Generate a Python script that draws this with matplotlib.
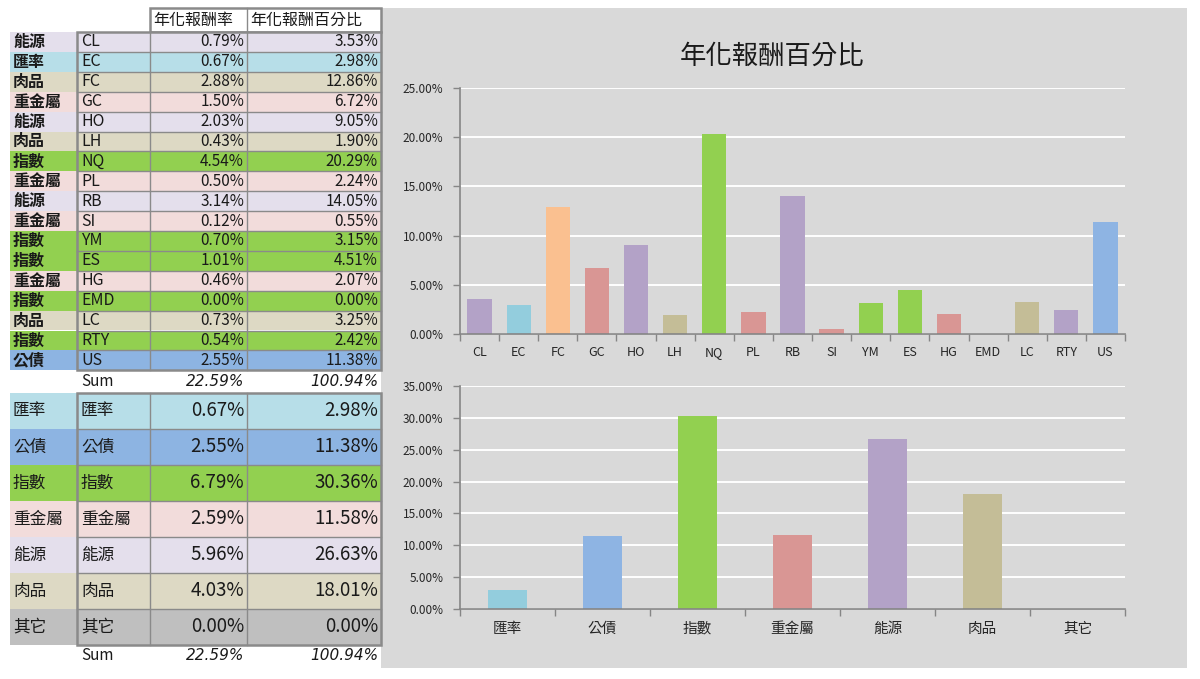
import numpy as np
import matplotlib.pyplot as plt
from matplotlib.patches import Rectangle
from matplotlib.ticker import FuncFormatter, FixedLocator

plt.rcParams['font.family'] = ['Noto Sans CJK TC', 'DejaVu Sans']

# per-contract data
codes = ['CL', 'EC', 'FC', 'GC', 'HO', 'LH', 'NQ', 'PL', 'RB', 'SI', 'YM', 'ES', 'HG', 'EMD', 'LC', 'RTY', 'US']
sectors = ['能源', '匯率', '肉品', '重金屬', '能源', '肉品', '指數', '重金屬', '能源', '重金屬',
           '指數', '指數', '重金屬', '指數', '肉品', '指數', '公債']
ann_ret = [0.79, 0.67, 2.88, 1.50, 2.03, 0.43, 4.54, 0.50, 3.14, 0.12, 0.70, 1.01, 0.46, 0.00, 0.73, 0.54, 2.55]
ret_pct = [3.53, 2.98, 12.86, 6.72, 9.05, 1.90, 20.29, 2.24, 14.05, 0.55, 3.15, 4.51, 2.07, 0.00, 3.25, 2.42, 11.38]
bar_colors = ['#b3a2c7', '#93cddd', '#fac090', '#d99694', '#b3a2c7', '#c4bd97', '#92d050', '#d99694', '#b3a2c7',
              '#d99694', '#92d050', '#92d050', '#d99694', '#92d050', '#c4bd97', '#b3a2c7', '#8eb4e3']

# per-sector data
groups = ['匯率', '公債', '指數', '重金屬', '能源', '肉品', '其它']
group_ret = [0.67, 2.55, 6.79, 2.59, 5.96, 4.03, 0.00]
group_pct = [2.98, 11.38, 30.36, 11.58, 26.63, 18.01, 0.00]
group_colors = ['#93cddd', '#8eb4e3', '#92d050', '#d99694', '#b3a2c7', '#c4bd97', '#bfbfbf']

sum_ret = 22.59
sum_pct = 100.94
headers = ['年化報酬率', '年化報酬百分比']
title = '年化報酬百分比'

row_fill = {'能源': '#e4dfec', '匯率': '#b7dee8', '肉品': '#ddd9c4', '重金屬': '#f2dcdb',
            '指數': '#92d050', '公債': '#8db4e2', '其它': '#bfbfbf'}

fig = plt.figure(figsize=(12, 6.79), dpi=100)
bg = fig.add_axes([0, 0, 1, 1], zorder=0)
bg.set_xlim(0, 1200)
bg.set_ylim(679, 0)
bg.axis('off')

# gray chart panel
bg.add_patch(Rectangle((381, 8), 806, 660, facecolor='#d9d9d9', edgecolor='none'))

x_cat, x_code, x_ret, x_pct, x_end = 10, 77, 150, 247, 381
line_c = '#8a8a8a'
txt_c = '#1a1a1a'


def draw_table(y0, rh, cats, labels, rets, pcts, fs_txt, fs_num, cat_weight):
    n = len(cats)
    for i in range(n):
        y = y0 + i * rh
        yc = y + rh / 2
        bg.add_patch(Rectangle((x_cat, y), x_end - x_cat, rh, facecolor=row_fill[cats[i]], edgecolor='none'))
        bg.text(x_cat + 3, yc, cats[i], fontsize=fs_txt, va='center', ha='left', color=txt_c, weight=cat_weight)
        bg.text(x_code + 4, yc, labels[i], fontsize=fs_txt, va='center', ha='left', color=txt_c)
        bg.text(x_pct - 3, yc, f'{rets[i]:.2f}%', fontsize=fs_num, va='center', ha='right', color=txt_c)
        bg.text(x_end - 3, yc, f'{pcts[i]:.2f}%', fontsize=fs_num, va='center', ha='right', color=txt_c)
    for i in range(1, n):
        bg.plot([x_code, x_end], [y0 + i * rh] * 2, color=line_c, lw=1)
    for xv in (x_ret, x_pct):
        bg.plot([xv, xv], [y0, y0 + n * rh], color=line_c, lw=1)
    bg.add_patch(Rectangle((x_code, y0), x_end - x_code, n * rh, fill=False, edgecolor=line_c, lw=1.8))
    ys = y0 + n * rh + 11
    bg.text(x_code + 4, ys, 'Sum', fontsize=11, va='center', ha='left', color=txt_c)
    bg.text(x_pct - 3, ys, f'{sum_ret:.2f}%', fontsize=11, va='center', ha='right', color=txt_c,
            family='DejaVu Sans', style='italic')
    bg.text(x_end - 3, ys, f'{sum_pct:.2f}%', fontsize=11, va='center', ha='right', color=txt_c,
            family='DejaVu Sans', style='italic')


# header of the upper table
bg.add_patch(Rectangle((x_ret, 8), x_end - x_ret, 24, facecolor='white', edgecolor=line_c, lw=1.8))
bg.plot([x_pct, x_pct], [8, 32], color=line_c, lw=1)
bg.text(x_ret + 3, 20, headers[0], fontsize=11.5, va='center', ha='left', color=txt_c)
bg.text(x_pct + 3, 20, headers[1], fontsize=11.5, va='center', ha='left', color=txt_c)

draw_table(32, 19.9, sectors, codes, ann_ret, ret_pct, 11.5, 11, 'bold')
draw_table(393, 36, groups, groups, group_ret, group_pct, 12, 13.5, 'medium')

fig.text(772 / 1200, 1 - 56 / 679, title, fontsize=19, ha='center', va='center', color='#1a1a1a')


def style(ax, labels, ymax, bar_w, values, colors, xfs):
    x = np.arange(len(labels))
    ax.bar(x, values, width=bar_w, color=colors, zorder=3)
    ax.set_facecolor('none')
    ax.set_xlim(-0.5, len(labels) - 0.5)
    ax.set_ylim(0, ymax)
    ax.set_yticks(np.arange(0, ymax + 1e-9, 0.05))
    ax.yaxis.set_major_formatter(FuncFormatter(lambda v, p: f'{v * 100:.2f}%'))
    ax.grid(axis='y', color='white', lw=1.4, zorder=1)
    ax.set_axisbelow(True)
    ax.set_xticks(x)
    ax.set_xticklabels(labels)
    ax.xaxis.set_minor_locator(FixedLocator(np.arange(len(labels) + 1) - 0.5))
    ax.tick_params(axis='x', which='major', length=0, pad=9, labelsize=xfs, labelcolor='#262626')
    ax.tick_params(axis='x', which='minor', length=5, color='#868686', width=1)
    ax.tick_params(axis='y', length=5, color='#868686', width=1, pad=7, labelsize=8.5, labelcolor='#262626')
    for s in ('top', 'right'):
        ax.spines[s].set_visible(False)
    for s in ('left', 'bottom'):
        ax.spines[s].set_color('#868686')
        ax.spines[s].set_linewidth(1.2)
        ax.spines[s].set_zorder(4)


ax1 = fig.add_axes([460 / 1200, 1 - 334 / 679, 665 / 1200, 246 / 679], zorder=2)
style(ax1, codes, 0.25, 0.62, np.array(ret_pct) / 100, bar_colors, 9)

ax2 = fig.add_axes([460 / 1200, 1 - 609 / 679, 665 / 1200, 223 / 679], zorder=2)
style(ax2, groups, 0.35, 0.41, np.array(group_pct) / 100, group_colors, 10.5)

fig.savefig('out.png', dpi=100)
